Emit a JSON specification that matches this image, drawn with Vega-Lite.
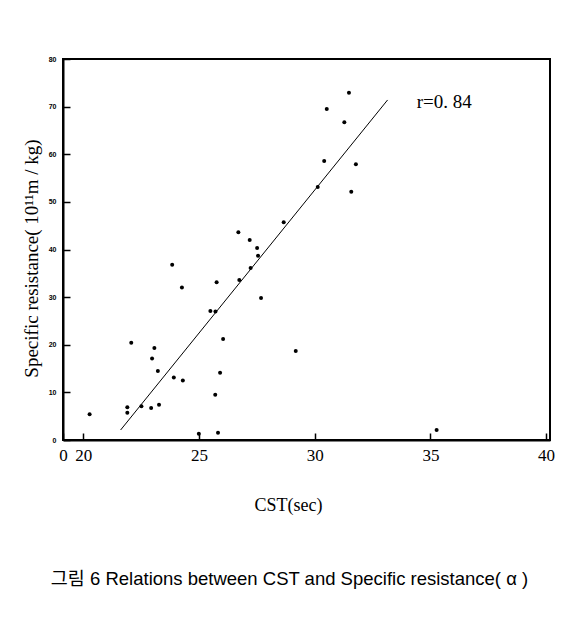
{
  "$schema": "https://vega.github.io/schema/vega-lite/v6.json",
  "width": 487,
  "height": 381,
  "autosize": {"type": "none"},
  "padding": {"left": 63, "top": 59, "right": 24, "bottom": 177},
  "background": "white",
  "config": {"view": {"stroke": "black", "strokeWidth": 2}},
  "title": {
    "text": "그림 6 Relations between CST and Specific resistance( α )",
    "orient": "bottom",
    "anchor": "middle",
    "offset": 56,
    "dx": -17,
    "font": "Liberation Sans, Noto Sans CJK KR",
    "fontSize": 18.5,
    "fontWeight": "normal",
    "color": "black"
  },
  "datasets": {
    "points": [
      {"x": 26.70, "y": 43.6}, {"x": 27.19, "y": 42.0}, {"x": 27.51, "y": 40.3},
      {"x": 27.55, "y": 38.7}, {"x": 27.23, "y": 36.1}, {"x": 26.74, "y": 33.6},
      {"x": 23.84, "y": 36.8}, {"x": 24.26, "y": 32.0}, {"x": 25.76, "y": 33.1},
      {"x": 25.49, "y": 27.1}, {"x": 25.71, "y": 27.0}, {"x": 27.68, "y": 29.8},
      {"x": 26.04, "y": 21.2}, {"x": 22.07, "y": 20.4}, {"x": 23.07, "y": 19.3},
      {"x": 22.97, "y": 17.1}, {"x": 23.22, "y": 14.5}, {"x": 23.91, "y": 13.1},
      {"x": 24.30, "y": 12.5}, {"x": 25.91, "y": 14.1}, {"x": 25.70, "y": 9.5},
      {"x": 20.27, "y": 5.4}, {"x": 21.90, "y": 6.9}, {"x": 21.90, "y": 5.7},
      {"x": 22.51, "y": 7.1}, {"x": 22.93, "y": 6.7}, {"x": 23.27, "y": 7.4},
      {"x": 24.99, "y": 1.3}, {"x": 25.82, "y": 1.5}, {"x": 29.18, "y": 18.7},
      {"x": 35.27, "y": 2.1}, {"x": 31.48, "y": 72.9}, {"x": 30.52, "y": 69.5},
      {"x": 31.28, "y": 66.7}, {"x": 30.41, "y": 58.6}, {"x": 31.78, "y": 57.9},
      {"x": 30.13, "y": 53.1}, {"x": 31.58, "y": 52.1}, {"x": 28.66, "y": 45.7}
    ],
    "fit": [{"x": 21.61, "y": 2.1}, {"x": 33.15, "y": 71.4}],
    "note": [{"x": 34.41, "y": 69.7, "label": "r=0. 84"}]
  },
  "encoding": {
    "x": {
      "field": "x",
      "type": "quantitative",
      "scale": {"domain": [19.12, 40.17], "nice": false, "zero": false},
      "axis": {
        "values": [19.12, 20, 25, 30, 35, 40],
        "labelExpr": "datum.value < 19.5 ? '0' : datum.label",
        "grid": false,
        "domainColor": "black",
        "domainWidth": 2,
        "tickColor": "black",
        "tickWidth": 1.5,
        "tickSize": -7,
        "labelPadding": 14,
        "labelFont": "Liberation Serif",
        "labelFontSize": 17,
        "labelColor": "black",
        "labelFlush": false,
        "title": "CST(sec)",
        "titleFont": "Liberation Serif",
        "titleFontSize": 18,
        "titleFontWeight": "normal",
        "titleColor": "black",
        "titleX": 225,
        "titleY": 70,
        "titleBaseline": "alphabetic"
      }
    },
    "y": {
      "field": "y",
      "type": "quantitative",
      "scale": {"domain": [0, 80], "nice": false},
      "axis": {
        "values": [0, 10, 20, 30, 40, 50, 60, 70, 80],
        "grid": false,
        "domainColor": "black",
        "domainWidth": 2,
        "tickColor": "black",
        "tickWidth": 1.5,
        "tickSize": -7,
        "labelPadding": 14,
        "labelFont": "Liberation Sans",
        "labelFontSize": 7,
        "labelFontWeight": "bold",
        "labelColor": "black",
        "labelFlush": false,
        "title": "Specific resistance( 10¹¹m / kg)",
        "titleFont": "Liberation Serif",
        "titleFontSize": 19,
        "titleFontWeight": "normal",
        "titleColor": "black",
        "titleX": -32,
        "titleY": 199,
        "titleAngle": -90,
        "titleBaseline": "middle"
      }
    }
  },
  "layer": [
    {
      "data": {"name": "points"},
      "mark": {"type": "circle", "color": "black", "opacity": 1, "size": 16}
    },
    {
      "data": {"name": "fit"},
      "mark": {"type": "line", "color": "black", "strokeWidth": 1}
    },
    {
      "data": {"name": "note"},
      "mark": {"type": "text", "font": "Liberation Serif", "fontSize": 19, "align": "left", "baseline": "alphabetic", "color": "black"},
      "encoding": {"text": {"field": "label"}}
    }
  ]
}
